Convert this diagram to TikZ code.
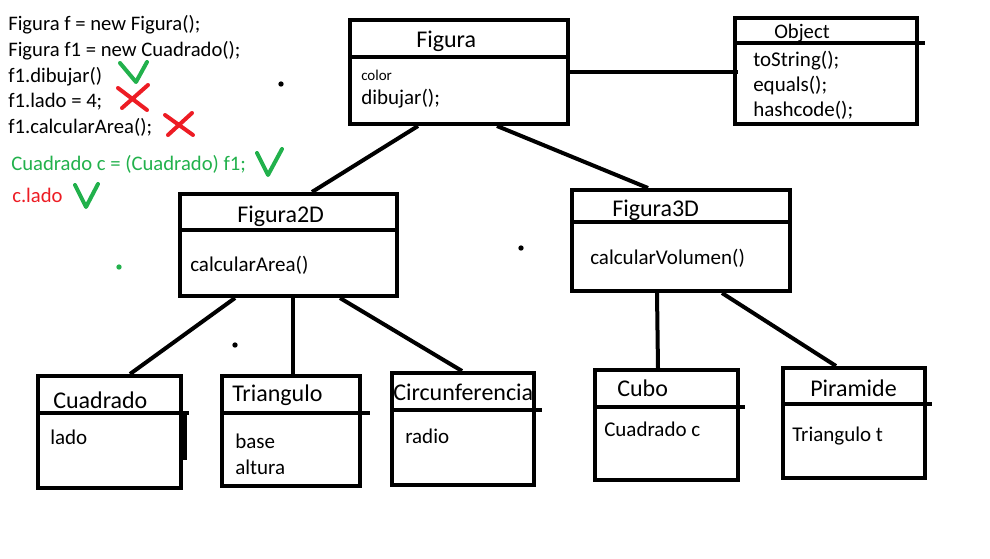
\documentclass[tikz,border=0pt]{standalone}
\usepackage{fontspec}
\setmainfont{Carlito}
\usepackage{xcolor}
\usetikzlibrary{fit,positioning}
\definecolor{verde}{HTML}{22B14C}
\definecolor{rojo}{HTML}{ED1C24}

\begin{document}
\begin{tikzpicture}[
    x=0.75pt, y=-0.75pt,
    clase/.style={draw, line width=3pt, inner sep=0pt},
    linea/.style={line width=3pt},
    titulo/.style={anchor=base west, inner sep=0pt, font=\fontsize{18}{20}\selectfont},
    campo/.style={anchor=base west, inner sep=0pt, font=\fontsize{15.75}{18}\selectfont},
    codigo/.style={anchor=base west, inner sep=0pt, font=\fontsize{15.5}{18}\selectfont},
    marca/.style={line width=3pt, line cap=round, line join=round},
    punto/.style={fill, circle, inner sep=0pt, minimum size=4pt}
]
    \useasboundingbox (0,0) rectangle (990,558);

    % Code lines
    \node[codigo] (cod1) at (8,30) {Figura f = new Figura();};
    \node[codigo] (cod2) at (8,56) {Figura f1 = new Cuadrado();};
    \node[codigo] (cod3) at (8,82) {f1.dibujar()};
    \node[codigo] (cod4) at (8,107) {f1.lado = 4;};
    \node[codigo] (cod5) at (8,133) {f1.calcularArea();};
    \node[codigo, text=verde] (cod6) at (11,170) {Cuadrado c = (Cuadrado) f1;};
    \node[codigo, text=rojo] (cod7) at (12,202) {c.lado};

    % Marks
    \draw[marca, verde] (120,63) -- (136,82) -- (147,62);
    \draw[marca, rojo] (118,88) -- (147,110) (148,85) -- (122,108);
    \draw[marca, rojo] (165,115) -- (193,135) (192,113) -- (168,135);
    \draw[marca, verde] (257,153) -- (268,175) -- (282,149);
    \draw[marca, verde] (75,185) -- (86,207) -- (98,184);

    % Classes
    \node[clase, fit={(350,20) (568,124)}] (figura) {};
    \node[clase, fit={(735,18) (917,124)}] (object) {};
    \node[clase, fit={(180,194) (397,296)}] (fig2d) {};
    \node[clase, fit={(572,190) (790,291)}] (fig3d) {};
    \node[clase, fit={(38,376) (181,488)}] (cuadrado) {};
    \node[clase, fit={(222,376) (360,486)}] (triangulo) {};
    \node[clase, fit={(392,373) (534,485)}] (circunf) {};
    \node[clase, fit={(595,370) (738,480)}] (cubo) {};
    \node[clase, fit={(783,368) (925,478)}] (piramide) {};

    % Dividers
    \draw[linea] (figura.west |- 0,57) -- (figura.east |- 0,57);
    \draw[linea] (object.west |- 0,43) -- ([xshift=4.5pt]object.east |- 0,43);
    \draw[linea] (fig2d.west |- 0,230) -- (fig2d.east |- 0,230);
    \draw[linea] (fig3d.west |- 0,222) -- (fig3d.east |- 0,222);
    \draw[linea] (cuadrado.west |- 0,413) -- ([xshift=4.5pt]cuadrado.east |- 0,413);
    \draw[linea] (triangulo.west |- 0,413) -- ([xshift=6pt]triangulo.east |- 0,413);
    \draw[linea] (circunf.west |- 0,410) -- ([xshift=4.5pt]circunf.east |- 0,410);
    \draw[linea] (cubo.west |- 0,407) -- ([xshift=4pt]cubo.east |- 0,407);
    \draw[linea] (piramide.west |- 0,404) -- ([xshift=4pt]piramide.east |- 0,404);
    \draw[linea] ([xshift=1.5pt]cuadrado.east |- 0,413) -- ([xshift=1.5pt]cuadrado.east |- 0,460);

    % Titles
    \node[titulo] (t-figura) at (416,47) {Figura};
    \node[titulo, font=\fontsize{15.5}{18}\selectfont] (t-object) at (774,38) {Object};
    \node[titulo] (t-fig2d) at (237,222) {Figura2D};
    \node[titulo] (t-fig3d) at (612,216) {Figura3D};
    \node[titulo] (t-cuadrado) at (53,408) {Cuadrado};
    \node[titulo] (t-triangulo) at (232,401) {Triangulo};
    \node[titulo] (t-circunf) at (393,400) {Circunferencia};
    \node[titulo] (t-cubo) at (617,396) {Cubo};
    \node[titulo] (t-piramide) at (810,396) {Piramide};

    % Members
    \node[campo, font=\fontsize{11.25}{13}\selectfont] (m-color) at (361,80) {color};
    \node[campo] (m-dibujar) at (361,104) {dibujar();};
    \node[campo] (m-tostring) at (753,66) {toString();};
    \node[campo] (m-equals) at (753,91) {equals();};
    \node[campo] (m-hashcode) at (753,116) {hashcode();};
    \node[campo] (m-area) at (190,271) {calcularArea()};
    \node[campo] (m-volumen) at (590,264) {calcularVolumen()};
    \node[campo] (m-lado) at (50,444) {lado};
    \node[campo] (m-base) at (235,448) {base};
    \node[campo] (m-altura) at (235,474) {altura};
    \node[campo] (m-radio) at (405,443) {radio};
    \node[campo] (m-cuadc) at (604,436) {Cuadrado c};
    \node[campo] (m-triant) at (792,441) {Triangulo t};

    % Connectors
    \draw[linea] (figura.east |- 0,72) -- ([xshift=4pt]object.west |- 0,72);
    \draw[linea] (figura.south -| 418,0) -- (fig2d.north -| 312,0);
    \draw[linea] (figura.south -| 497,0) -- (fig3d.north -| 648,0);
    \draw[linea] (fig2d.south -| 235,0) -- (cuadrado.north -| 130,0);
    \draw[linea] (fig2d.south -| 293,0) -- (triangulo.north -| 293,0);
    \draw[linea] (fig2d.south -| 340,0) -- (circunf.north -| 462,0);
    \draw[linea] (fig3d.south -| 657,0) -- (cubo.north -| 658,0);
    \draw[linea] (fig3d.south -| 722,0) -- (piramide.north -| 836,0);

    % Stray dots
    \node[punto] (p1) at (281,84) {};
    \node[punto] (p2) at (521,248) {};
    \node[punto, verde] (p3) at (119,267) {};
    \node[punto] (p4) at (235,345) {};
\end{tikzpicture}
\end{document}
